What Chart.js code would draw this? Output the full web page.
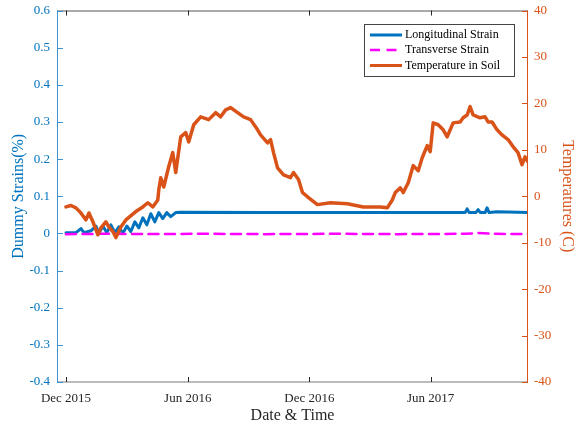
<!DOCTYPE html>
<html>
<head>
<meta charset="utf-8">
<script src="https://cdn.jsdelivr.net/npm/chart.js@4/dist/chart.umd.min.js"></script>
<style>
html,body{margin:0;padding:0;background:#fff;}
#wrap{width:575px;height:429px;}
</style>
</head>
<body>
<div id="wrap"><canvas id="c" width="575" height="429"></canvas></div>
<script>
// x values are days since 1 Dec 2015
const xTickDays = [0, 183, 366, 548];
const xTickLabels = ['Dec 2015', 'Jun 2016', 'Dec 2016', 'Jun 2017'];

const tempDays = [0,7.5,15,22.5,30,34.5,40.5,48,52.5,60,64.5,70.5,75,82.5,90,105,115.5,123,130.5,138,139.5,142.5,147,154.5,160.5,165,172.5,180,184.5,192,202.5,214.5,225,232.5,240,247.5,258,267,277.5,288,292.5,303,307.5,312,318,327,337.5,342,349.5,355.5,364.5,378,397.5,423,447,472.5,483,490.5,495,502.5,507,514.5,522,529.5,535.5,543,547.5,552,559.5,567,573,582,592.5,597,603,607.5,612,622.5,630,634.5,640.5,648,655.5,664.5,672,679.5,685.5,690,694.5];
const tempValues = [-2.3,-2.0,-2.5,-3.6,-5.1,-3.6,-5.5,-8.3,-6.8,-5.5,-6.6,-7.6,-8.9,-6.6,-5.1,-3.3,-2.3,-1.4,-2.3,-0.8,1.4,4.0,2.0,6.4,9.4,5.1,12.8,13.7,11.7,15.4,17.1,16.5,18.0,17.1,18.6,19.1,18.0,17.1,16.5,14.3,13.2,11.5,12.2,9.4,6.1,4.6,4.0,5.1,3.6,0.8,-0.3,-1.8,-1.4,-1.6,-2.3,-2.3,-2.5,-0.8,0.8,1.8,0.8,2.9,6.6,5.5,8.3,10.9,9.6,15.8,15.4,14.3,12.8,15.8,16.0,16.9,17.5,19.3,17.5,16.9,17.1,16.0,16.0,14.3,13.2,12.2,10.7,9.4,6.8,8.5,7.4];

const longDays = [0,15,22.5,27,37.5,45,49.5,55.5,61.5,67.5,73.5,79.5,85.5,91.5,97.5,103.5,109.5,115.5,121.5,127.5,133.5,139.5,145.5,151.5,157.5,165,172.5,300,450,600,603,606,616,619.5,623,630,633,636,648,694.5];
const longValues = [0.002,0.002,0.013,0.002,0.007,0.02,0,0.02,0.002,0.023,0.002,0.018,0,0.02,0.005,0.031,0.015,0.042,0.023,0.053,0.031,0.056,0.04,0.056,0.045,0.056,0.057,0.056,0.056,0.056,0.066,0.056,0.056,0.064,0.056,0.056,0.069,0.056,0.058,0.056];

const transDays = [0,60,120,200,300,400,500,600,620,640,694.5];
const transValues = [-0.002,-0.001,-0.002,-0.001,-0.002,-0.001,-0.002,-0.001,0.001,-0.001,-0.002];

const BLUE = '#0072BD';
const ORANGE = '#D95319';
const MAGENTA = '#FF00FF';
const FONT = 'Liberation Serif';

function pts(xs, ys){ return xs.map((x,i)=>({x:x, y:ys[i]})); }
function noPad(s){ s.paddingTop = 0; s.paddingBottom = 0; s.paddingLeft = 0; s.paddingRight = 0; }

const framePlugin = {
  id: 'frame',
  afterDatasetsDraw(chart){
    const {ctx, chartArea:a, scales} = chart;
    ctx.save();
    ctx.strokeStyle = '#555555'; ctx.lineWidth = 1;
    ctx.beginPath(); ctx.moveTo(a.left, a.top+0.5); ctx.lineTo(a.right, a.top+0.5); ctx.stroke();
    ctx.strokeStyle = '#a6a6a6'; ctx.lineWidth = 1.6;
    ctx.beginPath(); ctx.moveTo(a.left, a.bottom); ctx.lineTo(a.right, a.bottom); ctx.stroke();
    ctx.strokeStyle = '#262626'; ctx.lineWidth = 1;
    scales.x.ticks.forEach(t=>{
      const px = Math.round(scales.x.getPixelForValue(t.value))+0.5;
      ctx.beginPath(); ctx.moveTo(px, a.bottom); ctx.lineTo(px, a.bottom-5); ctx.stroke();
      ctx.beginPath(); ctx.moveTo(px, a.top); ctx.lineTo(px, a.top+5); ctx.stroke();
    });
    ctx.strokeStyle = '#3d93d3'; ctx.lineWidth = 1;
    ctx.beginPath(); ctx.moveTo(a.left+0.5, a.top); ctx.lineTo(a.left+0.5, a.bottom); ctx.stroke();
    scales.y.ticks.forEach(t=>{
      const py = Math.round(scales.y.getPixelForValue(t.value))+0.5;
      ctx.beginPath(); ctx.moveTo(a.left, py); ctx.lineTo(a.left+6, py); ctx.stroke();
    });
    ctx.strokeStyle = ORANGE;
    ctx.beginPath(); ctx.moveTo(a.right-0.5, a.top); ctx.lineTo(a.right-0.5, a.bottom); ctx.stroke();
    scales.y2.ticks.forEach(t=>{
      const py = Math.round(scales.y2.getPixelForValue(t.value))+0.5;
      ctx.beginPath(); ctx.moveTo(a.right, py); ctx.lineTo(a.right-6, py); ctx.stroke();
    });
    // legend
    const lx = 364.5, ly = 24.5, lw = 150, lh = 52;
    ctx.fillStyle = '#ffffff';
    ctx.fillRect(lx, ly, lw, lh);
    ctx.strokeStyle = '#444444'; ctx.lineWidth = 1;
    ctx.strokeRect(lx, ly, lw, lh);
    const ys = [35, 50, 65.5];
    chart.data.datasets.slice().sort((p,q)=>p.legendIndex-q.legendIndex).forEach((ds,i)=>{
      ctx.strokeStyle = ds.borderColor;
      ctx.lineWidth = ds.legendWidth;
      ctx.setLineDash(ds.borderDash || []);
      ctx.beginPath(); ctx.moveTo(370, ys[i]); ctx.lineTo(402, ys[i]); ctx.stroke();
      ctx.setLineDash([]);
      ctx.fillStyle = '#000000';
      ctx.font = '12px "' + FONT + '"';
      ctx.textBaseline = 'middle';
      ctx.textAlign = 'left';
      ctx.fillText(ds.label, 405, ys[i]);
    });
    ctx.restore();
  }
};

new Chart(document.getElementById('c'), {
  type: 'line',
  data: {
    datasets: [
      { label: 'Temperature in Soil', data: pts(tempDays, tempValues), yAxisID: 'y2',
        borderColor: ORANGE, borderWidth: 3.5, pointRadius: 0, order: 0, legendIndex: 2, legendWidth: 3 },
      { label: 'Transverse Strain', data: pts(transDays, transValues), yAxisID: 'y',
        borderColor: MAGENTA, borderWidth: 2.5, borderDash: [10, 6.5], pointRadius: 0, order: 1, legendIndex: 1, legendWidth: 2.5 },
      { label: 'Longitudinal Strain', data: pts(longDays, longValues), yAxisID: 'y',
        borderColor: BLUE, borderWidth: 3, pointRadius: 0, order: 2, legendIndex: 0, legendWidth: 3 }
    ]
  },
  options: {
    responsive: false,
    animation: false,
    devicePixelRatio: 1,
    layout: { padding: { top: 10.5, left: 0, right: 0, bottom: 0 } },
    plugins: { legend: { display: false }, tooltip: { enabled: false } },
    elements: { line: { tension: 0, borderJoinStyle: 'round', borderCapStyle: 'round' } },
    scales: {
      x: {
        type: 'linear', min: -13.5, max: 694.5,
        afterFit: s => { s.height = 47; noPad(s); },
        afterBuildTicks: s => { s.ticks = xTickDays.map(v => ({ value: v })); },
        grid: { display: false, drawTicks: false }, border: { display: false },
        ticks: { padding: 10, color: '#262626', font: { family: FONT, size: 13, lineHeight: 1 }, maxRotation: 0, autoSkip: false,
          callback: v => { const i = xTickDays.indexOf(v); return i >= 0 ? xTickLabels[i] : ''; } },
        title: { display: true, text: 'Date & Time', color: '#262626', font: { family: FONT, size: 16, lineHeight: 1 }, padding: { top: 0, bottom: 5 } }
      },
      y: {
        position: 'left', min: -0.4, max: 0.6,
        afterFit: s => { s.width = 57; noPad(s); },
        grid: { display: false, drawTicks: false }, border: { display: false },
        ticks: { stepSize: 0.1, padding: 7, color: BLUE, font: { family: FONT, size: 13, lineHeight: 1 } },
        title: { display: true, text: 'Dummy Strains(%)', color: BLUE, font: { family: FONT, size: 16, lineHeight: 1 }, padding: { top: 11, bottom: 0 } }
      },
      y2: {
        position: 'right', min: -40, max: 40,
        afterFit: s => { s.width = 47; noPad(s); },
        grid: { display: false, drawTicks: false }, border: { display: false },
        ticks: { stepSize: 10, padding: 6, color: ORANGE, font: { family: FONT, size: 13, lineHeight: 1 } },
        title: { display: true, text: 'Temperatures (C)', color: ORANGE, font: { family: FONT, size: 16, lineHeight: 1 }, padding: { top: 0, bottom: 0 } }
      }
    }
  },
  plugins: [framePlugin]
});
</script>
</body>
</html>
